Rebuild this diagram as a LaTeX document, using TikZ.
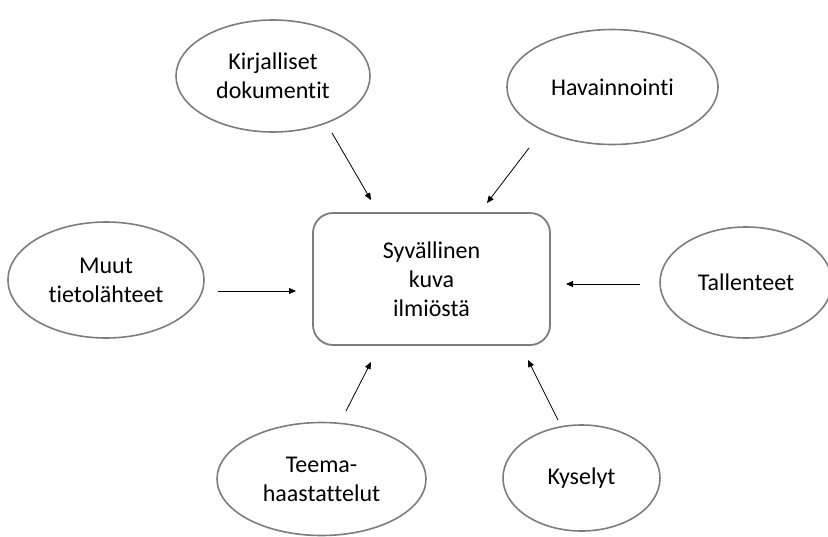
\documentclass[tikz,border=0pt]{standalone}
\usepackage{fontspec}
\setmainfont{Carlito}[Ligatures={NoCommon,NoRare}]
\usetikzlibrary{shapes.geometric,arrows.meta}
\definecolor{outline}{RGB}{125,125,125}
\begin{document}
\begin{tikzpicture}[x=1pt,y=-1pt,
  source/.style={ellipse,draw=outline,line width=1.6pt,inner sep=0pt,
    align=center,font=\fontsize{24}{29}\selectfont},
  hub/.style={rounded corners=20pt,draw=outline,line width=1.8pt,inner sep=0pt,
    align=center,font=\fontsize{24}{29}\selectfont},
  flow/.style={line width=0.8pt,-{Triangle[length=7pt,width=6pt]}}]
\useasboundingbox (0,0) rectangle (828,536);

% central result box
\node[hub,minimum width=237pt,minimum height=132pt] (hub) at (431.5,279) {Syvällinen\\kuva\\ilmiöstä};

% data sources around it
\node[source,minimum width=194pt,minimum height=112pt] (kir) at (273,76) {Kirjalliset\\dokumentit};
\node[source,minimum width=211pt,minimum height=115pt] (hav) at (612.5,87) {Havainnointi};
\node[source,minimum width=196pt,minimum height=116pt] (muu) at (106,280) {Muut\\tietolähteet};
\node[source,minimum width=172pt,minimum height=111pt] (tal) at (746,282.5) {Tallenteet};
\node[source,minimum width=209pt,minimum height=113pt] (tee) at (321.5,479) {Teema-\\haastattelut};
\node[source,minimum width=157pt,minimum height=106pt] (kys) at (581.5,478) {Kyselyt};

% arrow end points in the gaps between shapes
\coordinate (kirA) at (332,133);  \coordinate (kirB) at (371,200);
\coordinate (havA) at (529,148);  \coordinate (havB) at (487,203);
\coordinate (muuA) at (218,291);  \coordinate (muuB) at (296,291);
\coordinate (talA) at (640,284);  \coordinate (talB) at (566,284);
\coordinate (teeA) at (346,411);  \coordinate (teeB) at (371,362);
\coordinate (kysA) at (558,420);  \coordinate (kysB) at (528,360);

\draw[flow] (kirA) -- (kirB);
\draw[flow] (havA) -- (havB);
\draw[flow] (muuA) -- (muuB);
\draw[flow] (talA) -- (talB);
\draw[flow] (teeA) -- (teeB);
\draw[flow] (kysA) -- (kysB);
\end{tikzpicture}
\end{document}
